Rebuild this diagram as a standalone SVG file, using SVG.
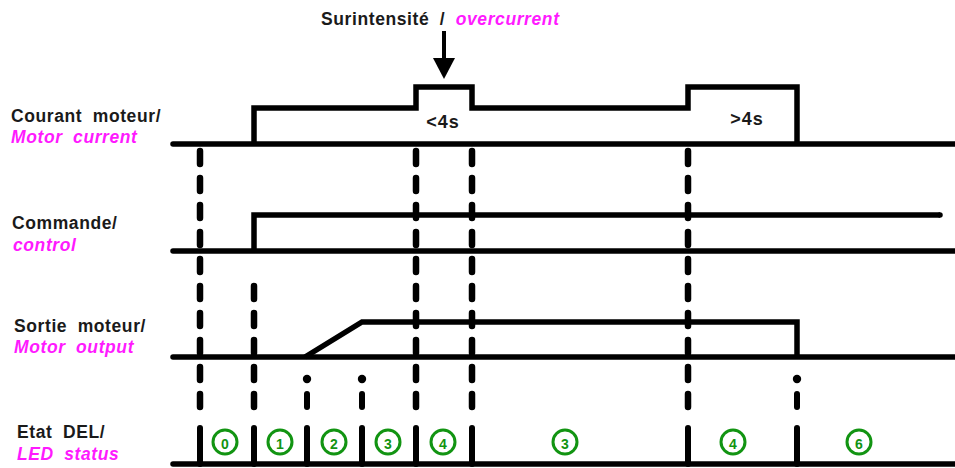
<svg xmlns="http://www.w3.org/2000/svg" width="955" height="468" viewBox="0 0 955 468">
<style>
.lbl{font-family:"Liberation Sans",Arial,sans-serif;font-weight:bold;font-size:17.5px;letter-spacing:0.6px;word-spacing:5px;fill:#1a1a1a}
.en{fill:#ff1aff;font-style:italic}
.sig{fill:none;stroke:#000;stroke-width:5.5;stroke-linejoin:miter;stroke-linecap:butt}
.base{fill:none;stroke:#000;stroke-width:5.5;stroke-linecap:round}
.dash{fill:none;stroke:#000;stroke-width:6.5;stroke-linecap:round;stroke-dasharray:13 14}
.bar{fill:none;stroke:#000;stroke-width:6;stroke-linecap:round}
.dot{fill:#000}
.st circle{fill:none;stroke:#129412;stroke-width:3}
.st text{font-family:"Liberation Sans",Arial,sans-serif;font-weight:bold;font-size:14px;fill:#129412;text-anchor:middle}
.dur{font-family:"Liberation Sans",Arial,sans-serif;font-weight:bold;font-size:18px;letter-spacing:1px;fill:#1a1a1a;text-anchor:middle}
</style>
<rect width="955" height="468" fill="#fff"/>

<g id="title">
<text class="lbl" x="321" y="25">Surintensité / <tspan class="en">overcurrent</tspan></text>
<line x1="444" y1="31" x2="444" y2="62" stroke="#000" stroke-width="4"/>
<polygon points="433,58 455,58 444,79" fill="#000"/>
</g>

<g id="labels">
<text class="lbl" x="11" y="122">Courant moteur/</text>
<text class="lbl en" x="11" y="143">Motor current</text>
<text class="lbl" x="12" y="229">Commande/</text>
<text class="lbl en" x="13" y="251">control</text>
<text class="lbl" x="14" y="332">Sortie moteur/</text>
<text class="lbl en" x="14" y="353">Motor output</text>
<text class="lbl" x="17" y="438">Etat DEL/</text>
<text class="lbl en" x="17" y="460">LED status</text>
</g>

<g id="connectors">
<line class="dash" x1="200" y1="151" x2="200" y2="407"/>
<line class="dash" x1="254" y1="286" x2="254" y2="407"/>
<line class="dash" x1="416" y1="151" x2="416" y2="407"/>
<line class="dash" x1="472" y1="151" x2="472" y2="407"/>
<line class="dash" x1="688" y1="151" x2="688" y2="407"/>
<line class="bar" x1="307" y1="394" x2="307" y2="407"/>
<line class="bar" x1="362" y1="394" x2="362" y2="407"/>
<line class="bar" x1="797" y1="394" x2="797" y2="407"/>
<circle class="dot" cx="307" cy="379" r="4.2"/>
<circle class="dot" cx="362" cy="379" r="4.2"/>
<circle class="dot" cx="797" cy="379" r="4.2"/>
</g>

<g id="motor-current">
<line class="base" x1="173" y1="144" x2="958" y2="144"/>
<path class="sig" d="M254,144 V108 H416 V87 H472 V108 H688 V87 H797 V144"/>
<text class="dur" x="443" y="128">&lt;4s</text>
<text class="dur" x="747" y="125">&gt;4s</text>
</g>

<g id="control">
<line class="base" x1="173" y1="251" x2="958" y2="251"/>
<path class="sig" d="M254,251 V215 H940"/>
<circle class="dot" cx="940" cy="215" r="2.75"/>
</g>

<g id="motor-output">
<line class="base" x1="173" y1="357" x2="958" y2="357"/>
<path class="sig" d="M305,357 L362,322 H797 V357"/>
</g>

<g id="led-status">
<line class="base" x1="173" y1="464" x2="958" y2="464"/>
<line class="bar" x1="200" y1="428" x2="200" y2="464"/>
<line class="bar" x1="254" y1="428" x2="254" y2="464"/>
<line class="bar" x1="307" y1="428" x2="307" y2="464"/>
<line class="bar" x1="362" y1="428" x2="362" y2="464"/>
<line class="bar" x1="416" y1="428" x2="416" y2="464"/>
<line class="bar" x1="472" y1="428" x2="472" y2="464"/>
<line class="bar" x1="688" y1="428" x2="688" y2="464"/>
<line class="bar" x1="797" y1="428" x2="797" y2="464"/>
<g class="st">
<circle cx="225" cy="442" r="12"/><text x="225" y="449">0</text>
<circle cx="280" cy="442" r="12"/><text x="280" y="449">1</text>
<circle cx="334" cy="442" r="12"/><text x="334" y="449">2</text>
<circle cx="388" cy="442" r="12"/><text x="388" y="449">3</text>
<circle cx="443" cy="442" r="12"/><text x="443" y="449">4</text>
<circle cx="565" cy="442" r="12"/><text x="565" y="449">3</text>
<circle cx="733" cy="442" r="12"/><text x="733" y="449">4</text>
<circle cx="859" cy="442" r="12"/><text x="859" y="449">6</text>
</g>
</g>
</svg>
